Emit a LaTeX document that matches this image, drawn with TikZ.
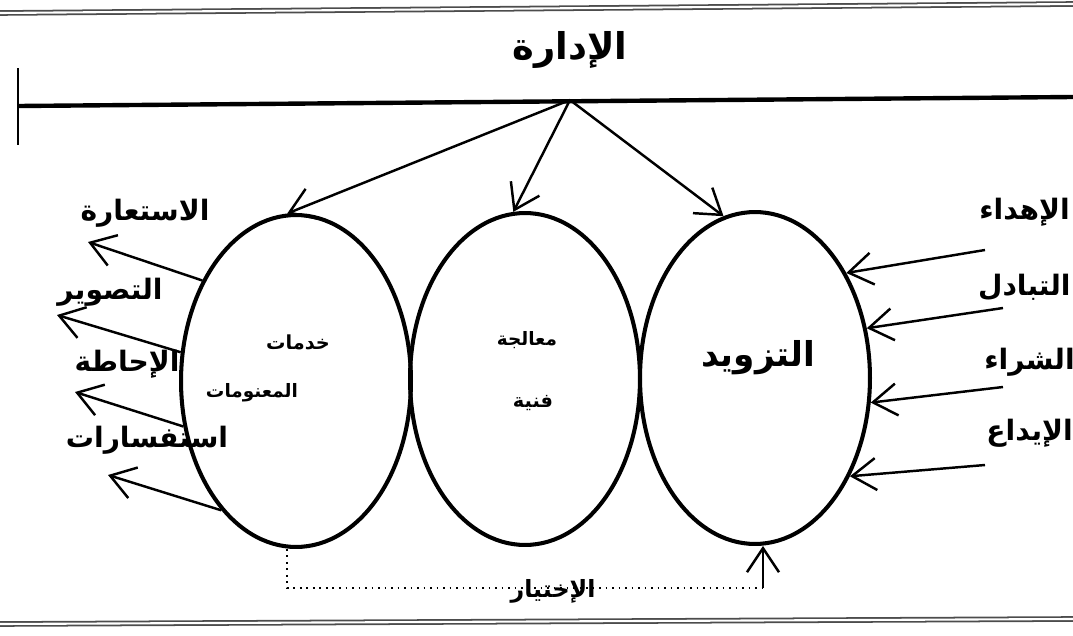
\documentclass[tikz,border=0pt]{standalone}
\usepackage{fontspec}
\newfontfamily\arabicfont[Script=Arabic]{DejaVu Sans}
\TeXXeTstate=1
\usetikzlibrary{arrows.meta,positioning,shapes.geometric,calc}

\begin{document}
\begin{tikzpicture}[
  x=0.02cm, y=-0.02cm,
  bub/.style={draw, ellipse, line width=2.3pt, minimum width=4.6cm, minimum height=6.64cm, inner sep=0pt},
  ar/.style={font=\arabicfont\bfseries\fontsize{#1}{#1}\selectfont, inner sep=0pt},
  arr/.style={-{Straight Barb[length=4.8mm, width=6.4mm, line width=1.4pt]}, line width=1.4pt},
  dots/.style={line width=1.1pt, dash pattern=on 1.1pt off 2.6pt},
  frame/.style={double, double distance=1.2pt, line width=1pt, gray!60!black},
]
\useasboundingbox (0,0) rectangle (1073,636);

% Frame lines and management bar
\draw[frame] (0,13) -- (1073,4);
\draw[frame] (0,624) -- (1073,619);
\draw[line width=2.5pt] (18,106) -- (1073,97);
\draw[line width=1.7pt] (18,68) -- (18,145);
\coordinate (hub) at (570,100);
\node[ar=21] (idara) at (570,50) {\beginR الإدارة\endR};

% The three ellipses
\node[bub] (cl) at (296,381) {};
\node[bub] (cm) at (525,379) {};
\node[bub] (cr) at (755,378) {};

% Texts inside the ellipses
\node[ar=11] (khad) at (298,342) {\beginR خدمات\endR};
\node[ar=10.5] (maln) at (252,393) {\beginR المعنومات\endR};
\node[ar=10.5] (muaa) at (527,340) {\beginR معالجة\endR};
\node[ar=11] (fann) at (533,403) {\beginR فنية\endR};
\node[ar=19.5] (taz) at (758,358) {\beginR التزويد\endR};

% Outputs (left)
\node[ar=16] (isti) at (145,213) {\beginR الاستعارة\endR};
\node[ar=16] (tasw) at (110,292) {\beginR التصوير\endR};
\node[ar=16] (ihat) at (127,364) {\beginR الإحاطة\endR};
\node[ar=16] (istf) at (147,440) {\beginR استفسارات\endR};
\coordinate (o1) at (88,242);
\coordinate (o2) at (57,315);
\coordinate (o3) at (75,392);
\coordinate (o4) at (108,475);

% Inputs (right)
\node[ar=16, anchor=east] (ihda) at (1070,212) {\beginR الإهداء\endR};
\node[ar=16, anchor=east] (tbdl) at (1071,287) {\beginR التبادل\endR};
\node[ar=16, anchor=east] (shra) at (1075,362) {\beginR الشراء\endR};
\node[ar=16, anchor=east] (iyda) at (1073,433) {\beginR الإيداع\endR};
\coordinate (i1) at (985,250);
\coordinate (i2) at (1003,308);
\coordinate (i3) at (1003,387);
\coordinate (i4) at (985,465);

% Arrows
\draw[arr] (hub) -- (cl.93);
\draw[arr] (hub) -- (cm.94);
\draw[arr] (hub) -- (cr.101);
\draw[arr] (cl.133) -- (o1);
\draw[arr] (cl.166) -- (o2);
\draw[arr] (cl.202) -- (o3);
\draw[arr] (cl.240) -- (o4);
\draw[arr] (i1) -- (cr.49);
\draw[arr] (i2) -- (cr.24);
\draw[arr] (i3) -- (cr.-12);
\draw[arr] (i4) -- (cr.-46);

% Selection feedback
\coordinate (dl) at (287,588);
\coordinate (dr) at (763,588);
\draw[dots] (cl.south -| dl) -- (dl) -- (dr);
\draw[arr] (dr) -- (cr.south -| dr);
\node[ar=13.5] (ikht) at (553,591) {\beginR الإختيار\endR};

\end{tikzpicture}
\end{document}
